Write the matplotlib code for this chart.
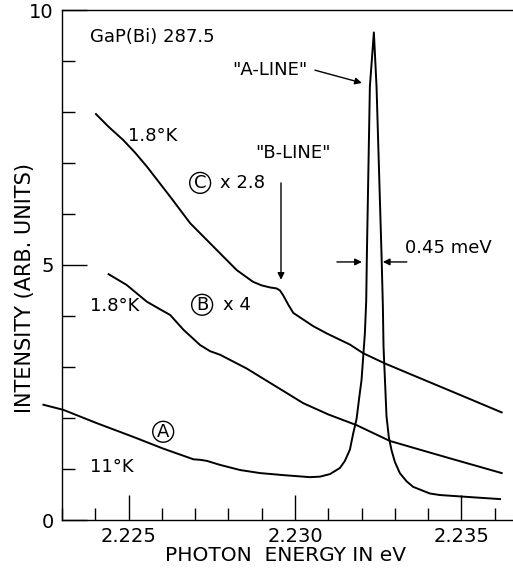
import numpy as np
import matplotlib
matplotlib.use("Agg")
from matplotlib import pyplot as plt
from matplotlib.ticker import MultipleLocator, FixedLocator

# curve A, 11 K (with the sharp A-line)
a_x = [2.22244, 2.22304, 2.22404, 2.22514, 2.22604, 2.22695, 2.22715, 2.22735,
       2.22775, 2.22835, 2.22895, 2.22965, 2.23045, 2.23075, 2.23105, 2.23135,
       2.23150, 2.23165, 2.23175, 2.23185, 2.23193, 2.23200, 2.23210, 2.23214,
       2.23216, 2.23225, 2.23237, 2.23245, 2.23260, 2.23264, 2.23266, 2.23275,
       2.23282, 2.23290, 2.23300, 2.23315, 2.23335, 2.23355, 2.23405, 2.23435,
       2.23501, 2.23616]
a_y = [2.26, 2.16, 1.90, 1.63, 1.40, 1.19, 1.18, 1.16,
       1.08, 0.98, 0.92, 0.88, 0.84, 0.85, 0.90, 1.02,
       1.16, 1.38, 1.70, 1.98, 2.40, 2.75, 3.66, 4.30,
       5.20, 8.50, 9.56, 8.50, 5.20, 4.20, 3.40, 2.03,
       1.62, 1.37, 1.14, 0.92, 0.76, 0.65, 0.52, 0.49,
       0.46, 0.41]

# curve B, 1.8 K, x4
b_x = [2.22440, 2.22494, 2.22555, 2.22595, 2.22625, 2.22665, 2.22715, 2.22745,
       2.22775, 2.22855, 2.22925, 2.23025, 2.23100, 2.23185, 2.23285, 2.23380,
       2.23465, 2.23621]
b_y = [4.82, 4.61, 4.28, 4.13, 4.02, 3.73, 3.43, 3.31,
       3.24, 2.97, 2.69, 2.29, 2.07, 1.86, 1.55, 1.37,
       1.21, 0.92]

# curve C, 1.8 K, x2.8 (with the B-line shoulder)
c_x = [2.22402, 2.22440, 2.22484, 2.22520, 2.22555, 2.22625, 2.22685, 2.22755,
       2.22825, 2.22874, 2.22900, 2.22925, 2.22945, 2.22955, 2.22965, 2.22980,
       2.22995, 2.23025, 2.23055, 2.23095, 2.23165, 2.23205, 2.23270, 2.23365,
       2.23486, 2.23621]
c_y = [7.96, 7.71, 7.45, 7.20, 6.93, 6.34, 5.82, 5.36,
       4.90, 4.67, 4.60, 4.56, 4.54, 4.50, 4.40, 4.22,
       4.06, 3.93, 3.80, 3.66, 3.44, 3.27, 3.07, 2.81,
       2.48, 2.11]

x_major = [2.225, 2.230, 2.235]
x_labels = ["2.225", "2.230", "2.235"]
y_major = [0, 5, 10]
y_labels = ["0", "5", "10"]

plt.rcParams['font.family'] = ['DejaVu Sans']

fig = plt.figure(figsize=(5.13, 5.68), dpi=100)
ax = fig.add_axes([62 / 513, 48 / 568, 450 / 513, 510 / 568])

lw = 1.4
ax.plot(a_x, a_y, color="black", lw=lw, clip_on=False)
ax.plot(b_x, b_y, color="black", lw=lw)
ax.plot(c_x, c_y, color="black", lw=lw)

ax.set_xlim(2.22300, 2.23652)
ax.set_ylim(0, 10)

ax.spines["right"].set_visible(False)
for s in ["left", "bottom", "top"]:
    ax.spines[s].set_linewidth(1.0)

ax.xaxis.set_major_locator(FixedLocator(x_major))
ax.xaxis.set_minor_locator(MultipleLocator(0.001))
ax.yaxis.set_major_locator(FixedLocator(y_major))
ax.yaxis.set_minor_locator(MultipleLocator(1))
ax.set_xticklabels(x_labels)
ax.set_yticklabels(y_labels)
ax.tick_params(which="both", direction="in", top=False, right=False, width=1.0,
               labelsize=14)
ax.tick_params(which="major", length=18)
ax.tick_params(which="minor", length=9)
ax.tick_params(axis="x", pad=5)
ax.tick_params(axis="y", pad=6)

ax.set_xlabel("PHOTON  ENERGY IN eV", fontsize=14.5)
ax.set_ylabel("INTENSITY (ARB. UNITS)", fontsize=15)
ax.xaxis.label.set_va("center")
ax.yaxis.label.set_va("center")
ax.xaxis.set_label_coords(0.496, -0.069)
ax.yaxis.set_label_coords(-0.082, 0.455)

fs = 13
ax.text(2.22384, 9.47, "GaP(Bi) 287.5", fontsize=fs, ha="left", va="center")
ax.text(2.22925, 8.82, '"A-LINE"', fontsize=fs, ha="center", va="center")
ax.text(2.22994, 7.20, '"B-LINE"', fontsize=fs, ha="center", va="center")
ax.text(2.22498, 7.53, "1.8°K", fontsize=fs, ha="left", va="center")
ax.text(2.22384, 4.20, "1.8°K", fontsize=fs, ha="left", va="center")
ax.text(2.22384, 1.04, "11°K", fontsize=fs, ha="left", va="center")
ax.text(2.22775, 6.61, "x 2.8", fontsize=fs, ha="left", va="center")
ax.text(2.22784, 4.22, "x 4", fontsize=fs, ha="left", va="center")
ax.text(2.23330, 5.33, "0.45 meV", fontsize=fs, ha="left", va="center")

circ = dict(boxstyle="circle,pad=0.08", fc="none", ec="black", lw=1.0)
ax.text(2.22715, 6.61, "C", fontsize=fs, ha="center", va="center", bbox=circ)
ax.text(2.22721, 4.22, "B", fontsize=fs, ha="center", va="center", bbox=circ)
ax.text(2.22604, 1.73, "A", fontsize=fs, ha="center", va="center", bbox=circ)

arrow = dict(arrowstyle="-|>", color="black", lw=1.0, mutation_scale=10,
             shrinkA=0, shrinkB=0)
ax.annotate("", xy=(2.23201, 8.57), xytext=(2.23060, 8.82), arrowprops=arrow)
ax.annotate("", xy=(2.22958, 4.71), xytext=(2.22958, 6.61), arrowprops=arrow)
ax.annotate("", xy=(2.23201, 5.06), xytext=(2.23126, 5.06), arrowprops=arrow)
ax.annotate("", xy=(2.23264, 5.06), xytext=(2.23336, 5.06), arrowprops=arrow)

fig.savefig("out.png", dpi=100)
